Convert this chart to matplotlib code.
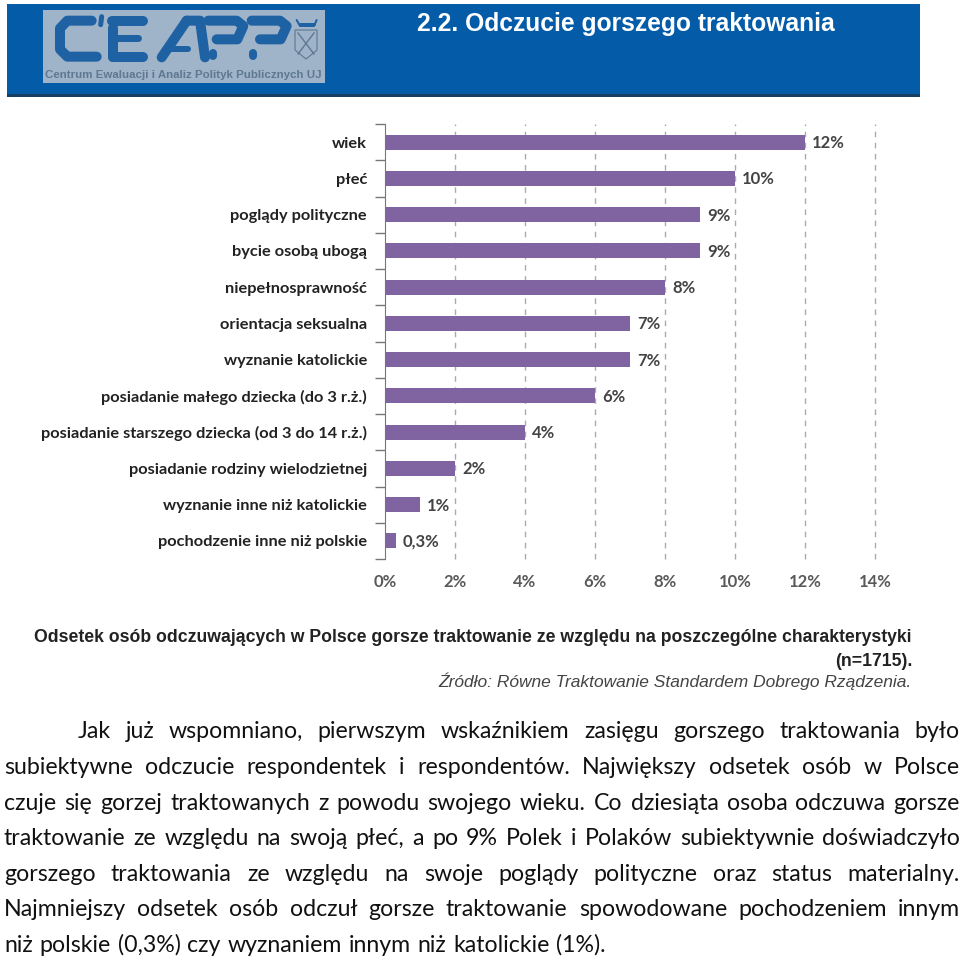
import numpy as np
import matplotlib
matplotlib.use("Agg")
import matplotlib.pyplot as plt
from matplotlib.patches import Rectangle, Polygon

categories = [
    "wiek", "płeć", "poglądy polityczne", "bycie osobą ubogą",
    "niepełnosprawność", "orientacja seksualna", "wyznanie katolickie",
    "posiadanie małego dziecka (do 3 r.ż.)",
    "posiadanie starszego dziecka (od 3 do 14 r.ż.)",
    "posiadanie rodziny wielodzietnej", "wyznanie inne niż katolickie",
    "pochodzenie inne niż polskie",
]
values = [12, 10, 9, 9, 8, 7, 7, 6, 4, 2, 1, 0.3]
value_labels = ["12%", "10%", "9%", "9%", "8%", "7%", "7%", "6%", "4%", "2%", "1%", "0,3%"]
x_ticks = [0, 2, 4, 6, 8, 10, 12, 14]

body_lines = [
    "Jak już wspomniano, pierwszym wskaźnikiem zasięgu gorszego traktowania było",
    "subiektywne odczucie respondentek i respondentów. Największy odsetek osób w Polsce",
    "czuje się gorzej traktowanych z powodu swojego wieku. Co dziesiąta osoba odczuwa gorsze",
    "traktowanie ze względu na swoją płeć, a po 9% Polek i Polaków subiektywnie doświadczyło",
    "gorszego traktowania ze względu na swoje poglądy polityczne oraz status materialny.",
    "Najmniejszy odsetek osób odczuł gorsze traktowanie spowodowane pochodzeniem innym",
    "niż polskie (0,3%) czy wyznaniem innym niż katolickie (1%).",
]
body_left = [78, 4, 4, 4, 4, 4, 4]
body_base = [738, 774, 810, 845, 881, 916, 952]

plt.rcParams["font.family"] = ["Lato", "DejaVu Sans"]
SIZE = 960
LOGO_BLUE = "#1F62A4"
LOGO_GREY = "#5E7892"

fig = plt.figure(figsize=(9.6, 9.6), dpi=100)

# overlay in pixel coordinates, y pointing down
bg = fig.add_axes([0, 0, 1, 1])
bg.set_xlim(0, SIZE)
bg.set_ylim(SIZE, 0)
bg.axis("off")

# banner
bg.add_patch(Rectangle((7, 4), 913, 93, color="#045CA8", lw=0))
bg.add_patch(Rectangle((7, 94), 913, 3, color="#173F63", lw=0))
bg.add_patch(Rectangle((43, 10), 282, 73, color="#9FB4C8", lw=0))


def stroke(pts, width=10):
    # pts are zoomed logo coordinates
    xs = [p[0] / 3 + 30 for p in pts]
    ys = [p[1] / 3 for p in pts]
    bg.plot(xs, ys, color=LOGO_BLUE, lw=width * 0.72, solid_capstyle="round", solid_joinstyle="round")


# logo lettering, stencil style
stroke([(185, 62), (112, 62), (90, 85), (90, 148), (112, 170), (200, 170)])
stroke([(215, 50), (212, 74)], 5)
stroke([(245, 62), (340, 62)])
stroke([(262, 115), (325, 115)], 7)
stroke([(248, 170), (340, 170)])
stroke([(248, 85), (248, 170)])
stroke([(470, 62), (395, 172)])
stroke([(470, 62), (510, 62), (525, 172)])
stroke([(425, 148), (475, 148)], 6)
stroke([(535, 62), (620, 62), (640, 78), (622, 118), (560, 118)])
stroke([(548, 160), (548, 168)], 8)
stroke([(665, 62), (750, 62), (770, 78), (752, 118), (690, 118)])
stroke([(670, 160), (670, 168)], 8)

# crest
stroke([(800, 60), (810, 78), (852, 78), (860, 60)], 2)
stroke([(810, 72), (852, 72)], 3)
bg.add_patch(Polygon([(295, 30), (317, 30), (317, 50), (306, 59), (295, 50)], fc="none", ec=LOGO_GREY, lw=0.8))
bg.plot([298, 314], [33, 54], color=LOGO_GREY, lw=1)
bg.plot([314, 298], [33, 54], color=LOGO_GREY, lw=1)

bg.text(45, 75, "Centrum Ewaluacji i Analiz Polityk Publicznych UJ", fontsize=8.25,
        fontweight="bold", color=LOGO_GREY, va="center", ha="left", family="Liberation Sans")
bg.text(417, 24, "2.2. Odczucie gorszego traktowania", fontsize=17.7, fontweight="bold",
        color="white", va="center", ha="left", family="Liberation Sans")

# chart
ax = fig.add_axes([385 / SIZE, 1 - 559 / SIZE, 490 / SIZE, 435 / SIZE])
ax.patch.set_alpha(0)
y = np.arange(len(categories))
ax.barh(y, values, height=0.41, color="#8064A2", zorder=3)
ax.set_xlim(0, 14)
ax.set_ylim(len(categories) - 0.5, -0.5)
ax.set_xticks(x_ticks)
ax.set_xticklabels([f"{t}%" for t in x_ticks], fontsize=12, color="#5A5A5A", fontweight="bold")
ax.tick_params(axis="x", length=0, pad=11)
ax.set_yticks(y)
ax.set_yticklabels(categories, fontsize=11.8, fontweight="bold", color="#222222")
ax.tick_params(axis="y", length=0, pad=13)
ax.set_yticks(np.arange(len(categories) + 1) - 0.5, minor=True)
ax.tick_params(axis="y", which="minor", length=7, width=1, color="#777777")
for t in x_ticks[1:]:
    ax.axvline(t, color="#ABABAB", ls=(0, (4, 4)), lw=1, zorder=1, clip_on=False)
for side in ["top", "right", "bottom"]:
    ax.spines[side].set_visible(False)
ax.spines["left"].set_color("#777777")
for i, lab in enumerate(value_labels):
    ax.text(values[i] + 0.2, i + 0.03, lab, fontsize=12, fontweight="bold", color="#444444", va="center")

# caption
bg.text(912, 638, "Odsetek osób odczuwających w Polsce gorsze traktowanie ze względu na poszczególne charakterystyki",
        fontsize=12.7, fontweight="bold", ha="right", va="center", color="#222222", family="Liberation Sans")
bg.text(912, 661, "(n=1715).", fontsize=12.7, fontweight="bold", ha="right", va="center",
        color="#222222", family="Liberation Sans")
bg.text(912, 681, "Źródło: Równe Traktowanie Standardem Dobrego Rządzenia.", fontsize=12.5,
        style="italic", ha="right", va="center", color="#444444", family="Liberation Sans")

# justified body text, last line stays flush left
renderer = fig.canvas.get_renderer()
for n, line in enumerate(body_lines):
    words = line.split(" ")
    items = [bg.text(body_left[n], body_base[n], w, fontsize=16.7, va="baseline", ha="left",
                     color="#111111") for w in words]
    widths = [t.get_window_extent(renderer).width for t in items]
    if n == len(body_lines) - 1:
        gap = 6.8
    else:
        gap = (960 - body_left[n] - sum(widths)) / (len(words) - 1)
    pos = body_left[n]
    for t, w in zip(items, widths):
        t.set_x(pos)
        pos += w + gap

fig.savefig("out.png", dpi=100)
